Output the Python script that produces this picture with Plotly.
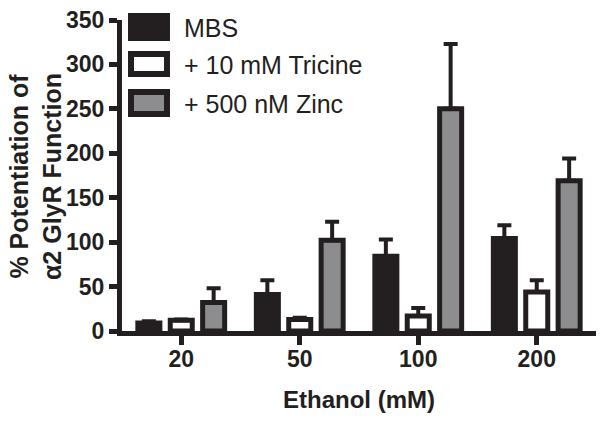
import plotly.graph_objects as go

categories = ["20", "50", "100", "200"]
series_names = ["MBS", "+ 10 mM Tricine", "+ 500 nM Zinc"]
mbs_values = [9, 41, 84, 104]
mbs_err = [2, 16, 19, 15]
tricine_values = [12, 13, 17, 44]
tricine_err = [1, 2, 9, 13]
zinc_values = [32, 102, 250, 169]
zinc_err = [16, 21, 73, 25]
y_ticks = [0, 50, 100, 150, 200, 250, 300, 350]

DARK = "#231f20"
GRAY = "#8d8d90"
FONT = "Liberation Sans, Arial, sans-serif"

W, H = 601, 422
L, R, T, B = 122, 5, 20, 91
PW, PH = W - L - R, H - T - B


def px(x):
    return (x - L) / PW


def py(y):
    return (H - B - y) / PH


fills = [DARK, "white", GRAY]
vals = [mbs_values, tricine_values, zinc_values]
errs = [mbs_err, tricine_err, zinc_err]

fig = go.Figure()
for name, v, e, f in zip(series_names, vals, errs, fills):
    fig.add_trace(go.Bar(
        x=categories, y=v, name=name,
        marker=dict(color=f, line=dict(color=DARK, width=5)),
        error_y=dict(type="data", array=e, arrayminus=[0] * len(e),
                     symmetric=False, thickness=4, width=7, color=DARK),
        showlegend=False,
    ))

# manual legend
box_y = [(16, 38), (54, 74), (92, 114)]
shapes = []
annotations = []
for (y0, y1), f, name in zip(box_y, fills, series_names):
    shapes.append(dict(type="rect", xref="paper", yref="paper",
                       x0=px(131), x1=px(167), y0=py(y1), y1=py(y0),
                       fillcolor=f, line=dict(color=DARK, width=6)))
    annotations.append(dict(xref="paper", yref="paper", x=px(182), y=py((y0 + y1) / 2 + 1),
                            xanchor="left", yanchor="middle", showarrow=False,
                            text=name, font=dict(family=FONT, size=25, color=DARK)))

annotations.append(dict(xref="paper", yref="paper", x=px(359), y=py(399),
                        xanchor="center", yanchor="middle", showarrow=False,
                        text="Ethanol (mM)",
                        font=dict(family=FONT, size=24, color=DARK, weight="bold")))
annotations.append(dict(xref="paper", yref="paper", x=px(35), y=py(177),
                        xanchor="center", yanchor="middle", showarrow=False,
                        textangle=-90,
                        text="% Potentiation of<br>α2 GlyR Function",
                        font=dict(family=FONT, size=25, color=DARK, weight="bold")))

fig.update_layout(
    width=W, height=H,
    margin=dict(l=L, r=R, t=T, b=B, pad=0),
    paper_bgcolor="white", plot_bgcolor="white",
    barmode="group", bargap=0.18, bargroupgap=0.32,
    shapes=shapes, annotations=annotations,
    font=dict(family=FONT, color=DARK),
)
fig.update_xaxes(
    type="category", range=[-0.5, 3.5],
    showline=True, linewidth=5, linecolor=DARK,
    ticks="outside", ticklen=9, tickwidth=5, tickcolor=DARK,
    ticklabelstandoff=-6,
    tickfont=dict(family=FONT, size=23, color=DARK, weight="bold"),
    showgrid=False, zeroline=False,
)
fig.update_yaxes(
    range=[0, 350], tickvals=y_ticks,
    showline=True, linewidth=5, linecolor=DARK,
    ticks="outside", ticklen=8, tickwidth=5, tickcolor=DARK,
    tickfont=dict(family=FONT, size=23, color=DARK, weight="bold"),
    showgrid=False, zeroline=False,
)

fig.write_html("out.html", config={"displayModeBar": False},
               post_script="document.body.style.margin='0';document.body.style.overflow='hidden';")
